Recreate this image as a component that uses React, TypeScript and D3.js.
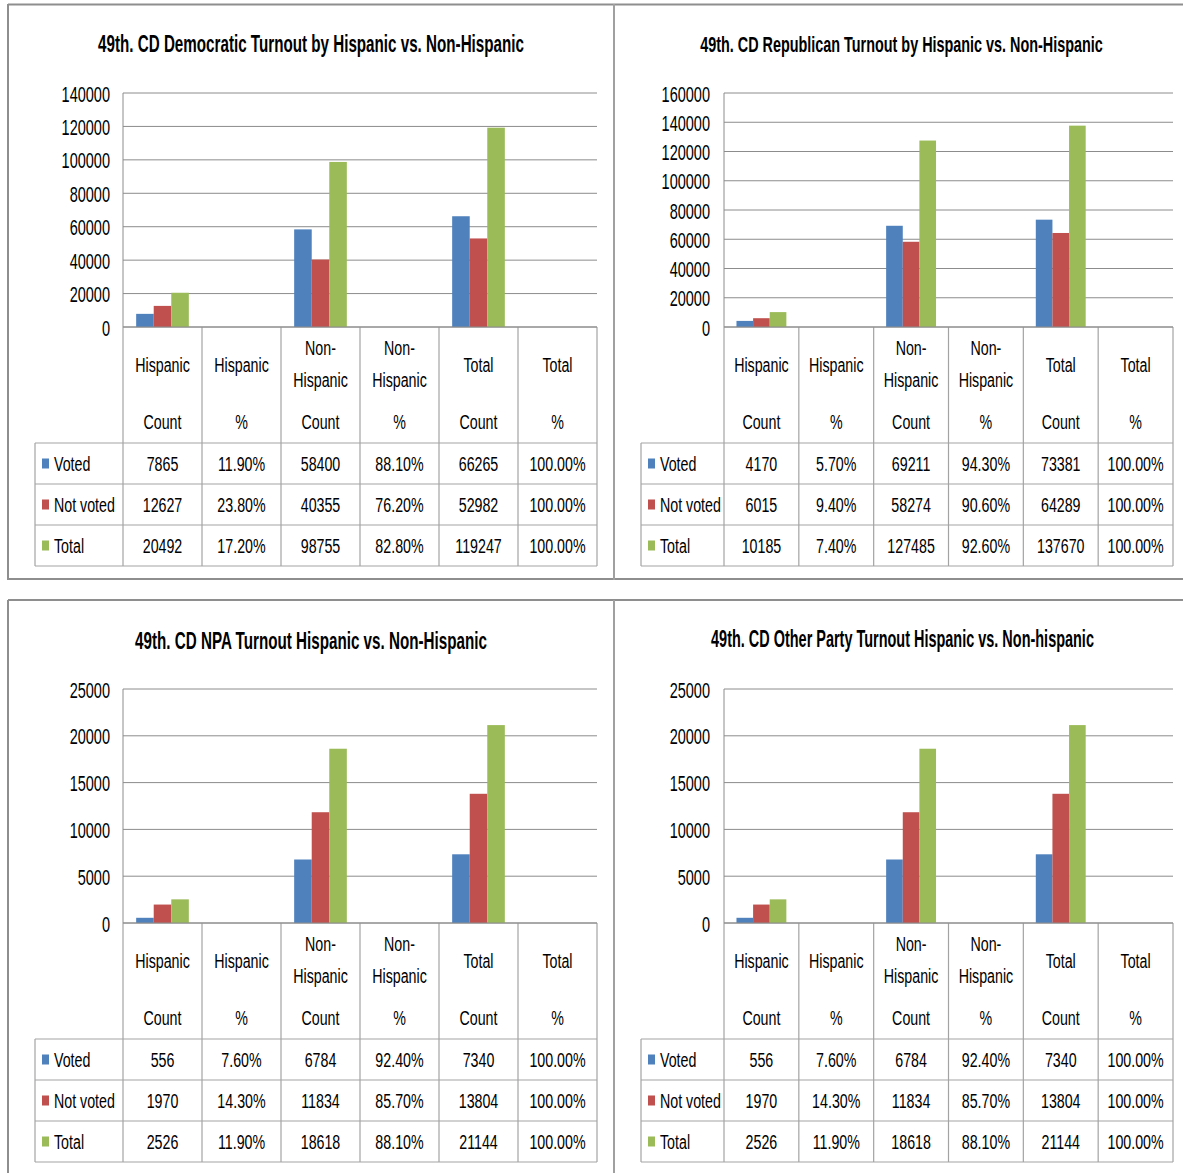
import React from "react";
import * as d3 from "d3";

// ---------- data ----------
const CATEGORIES = ["Hispanic Count", "Hispanic %", "Non-Hispanic Count", "Non-Hispanic %", "Total Count", "Total %"];
const CAT_TOP = [["Hispanic"], ["Hispanic"], ["Non-", "Hispanic"], ["Non-", "Hispanic"], ["Total"], ["Total"]];
const CAT_BOTTOM = ["Count", "%", "Count", "%", "Count", "%"];
const SERIES = ["Voted", "Not voted", "Total"];
const IS_PCT = [false, true, false, true, false, true];

const TITLES = [
  "49th. CD Democratic Turnout by Hispanic vs. Non-Hispanic",
  "49th. CD Republican Turnout by Hispanic vs. Non-Hispanic",
  "49th. CD NPA Turnout  Hispanic vs. Non-Hispanic",
  "49th. CD Other Party Turnout  Hispanic vs. Non-hispanic",
];
const Y_MAX = [140000, 160000, 25000, 25000];
const Y_STEP = [20000, 20000, 5000, 5000];

const DEM_VOTED = [7865, 0.119, 58400, 0.881, 66265, 1.0];
const DEM_NOT_VOTED = [12627, 0.238, 40355, 0.762, 52982, 1.0];
const DEM_TOTAL = [20492, 0.172, 98755, 0.828, 119247, 1.0];

const REP_VOTED = [4170, 0.057, 69211, 0.943, 73381, 1.0];
const REP_NOT_VOTED = [6015, 0.094, 58274, 0.906, 64289, 1.0];
const REP_TOTAL = [10185, 0.074, 127485, 0.926, 137670, 1.0];

const NPA_VOTED = [556, 0.076, 6784, 0.924, 7340, 1.0];
const NPA_NOT_VOTED = [1970, 0.143, 11834, 0.857, 13804, 1.0];
const NPA_TOTAL = [2526, 0.119, 18618, 0.881, 21144, 1.0];

const OTH_VOTED = [556, 0.076, 6784, 0.924, 7340, 1.0];
const OTH_NOT_VOTED = [1970, 0.143, 11834, 0.857, 13804, 1.0];
const OTH_TOTAL = [2526, 0.119, 18618, 0.881, 21144, 1.0];

const PANEL_VALUES = [
  [DEM_VOTED, DEM_NOT_VOTED, DEM_TOTAL],
  [REP_VOTED, REP_NOT_VOTED, REP_TOTAL],
  [NPA_VOTED, NPA_NOT_VOTED, NPA_TOTAL],
  [OTH_VOTED, OTH_NOT_VOTED, OTH_TOTAL],
];

// ---------- styles / layout ----------
const COLORS = ["#4f81bd", "#c0504d", "#9bbb59"];
const FONT = "'Liberation Sans', Arial, sans-serif";
const LAYOUT = [
  { left: 123, right: 597, top: 93, y0: 327, legendLeft: 35, labelRight: 110, titleX: 311, titleY: 52, titleW: 426 },
  { left: 724, right: 1173, top: 93, y0: 327, legendLeft: 641, labelRight: 710, titleX: 901.5, titleY: 52, titleW: 403 },
  { left: 123, right: 597, top: 689, y0: 923, legendLeft: 35, labelRight: 110, titleX: 311, titleY: 649, titleW: 352 },
  { left: 724, right: 1173, top: 689, y0: 923, legendLeft: 641, labelRight: 710, titleX: 902.5, titleY: 647, titleW: 383 },
];
const HEADER_H = 116;
const ROW_H = 41;

const fmtPct = d3.format(".2%");

function Txt({ x, y, anchor = "middle", fs = 19.5, sx = 0.73, children }: any) {
  return (
    <text
      transform={`translate(${x},${y}) scale(${sx},1)`}
      textAnchor={anchor}
      fontSize={fs}
      fontFamily={FONT}
      fill="#000"
    >
      {children}
    </text>
  );
}

function Title({ x, y, w, text }: any) {
  const ref = (el: SVGTextElement | null) => {
    if (!el) return;
    el.setAttribute("transform", `translate(${x},${y})`);
    const len = el.getComputedTextLength();
    if (len > 0) el.setAttribute("transform", `translate(${x},${y}) scale(${w / len},1)`);
  };
  return (
    <text
      ref={ref}
      transform={`translate(${x},${y}) scale(0.6,1)`}
      textAnchor="middle"
      fontSize={23}
      fontWeight="bold"
      fontFamily={FONT}
      fill="#000"
    >
      {text}
    </text>
  );
}

function Panel({ idx }: { idx: number }) {
  const L = LAYOUT[idx];
  const values = PANEL_VALUES[idx];
  const y = d3.scaleLinear().domain([0, Y_MAX[idx]]).range([L.y0, L.top]);
  const x0 = d3.scaleBand<string>().domain(CATEGORIES).range([L.left, L.right]).paddingInner(0).paddingOuter(0);
  const x1 = d3
    .scaleBand<string>()
    .domain(SERIES)
    .range([0, x0.bandwidth()])
    .paddingInner(0)
    .paddingOuter(0.75);
  const ticks = d3.range(0, Y_MAX[idx] + 1, Y_STEP[idx]);
  const headerBottom = L.y0 + HEADER_H;
  const tableBottom = headerBottom + ROW_H * SERIES.length;
  const gridColor = "#8c8c8c";
  const tableColor = "#a3a3a3";

  return (
    <g>
      <Title x={L.titleX} y={L.titleY} w={L.titleW} text={TITLES[idx]} />

      {/* gridlines */}
      {ticks.map((t) => (
        <line key={"g" + t} x1={L.left} x2={L.right} y1={y(t)} y2={y(t)} stroke={gridColor} strokeWidth={1} />
      ))}
      {/* y labels */}
      {ticks.map((t) => (
        <Txt key={"l" + t} x={L.labelRight} y={y(t) + 8.5} anchor="end" fs={22} sx={0.66}>
          {String(t)}
        </Txt>
      ))}
      {/* y axis line */}
      <line x1={L.left} x2={L.left} y1={L.top} y2={L.y0} stroke={gridColor} strokeWidth={1} />

      {/* bars */}
      {CATEGORIES.map((c, ci) => (
        <g key={c} transform={`translate(${x0(c)},0)`}>
          {SERIES.map((s, si) => {
            const v = values[si][ci];
            const h = L.y0 - y(v);
            return (
              <rect
                key={s}
                x={x1(s)}
                y={y(v)}
                width={x1.bandwidth()}
                height={Math.max(0, h)}
                fill={COLORS[si]}
              />
            );
          })}
        </g>
      ))}

      {/* table lines */}
      {CATEGORIES.map((c) => (
        <line
          key={"v" + c}
          x1={x0(c)}
          x2={x0(c)}
          y1={L.y0}
          y2={tableBottom}
          stroke={tableColor}
          strokeWidth={1.2}
        />
      ))}
      <line x1={L.right} x2={L.right} y1={L.y0} y2={tableBottom} stroke={tableColor} strokeWidth={1.2} />
      <line x1={L.legendLeft} x2={L.legendLeft} y1={headerBottom} y2={tableBottom} stroke={tableColor} strokeWidth={1.2} />
      {d3.range(SERIES.length + 1).map((r) => (
        <line
          key={"h" + r}
          x1={L.legendLeft}
          x2={L.right}
          y1={headerBottom + r * ROW_H}
          y2={headerBottom + r * ROW_H}
          stroke={tableColor}
          strokeWidth={1.2}
        />
      ))}
      <line x1={L.left} x2={L.right} y1={L.y0} y2={L.y0} stroke={gridColor} strokeWidth={1} />

      {/* header text */}
      {CATEGORIES.map((c, ci) => {
        const cx = (x0(c) as number) + x0.bandwidth() / 2;
        const top = CAT_TOP[ci];
        const tops = top.length === 1 ? [L.y0 + 38] : [L.y0 + 21, L.y0 + 53];
        return (
          <g key={"t" + c}>
            {top.map((line, li) => (
              <Txt key={li} x={cx} y={tops[li] + 7}>
                {line}
              </Txt>
            ))}
            <Txt x={cx} y={L.y0 + 95 + 7}>
              {CAT_BOTTOM[ci]}
            </Txt>
          </g>
        );
      })}

      {/* rows */}
      {SERIES.map((s, si) => {
        const cy = headerBottom + si * ROW_H + ROW_H / 2;
        return (
          <g key={"r" + s}>
            <rect x={L.legendLeft + 7} y={cy - 5} width={7} height={10} fill={COLORS[si]} />
            <Txt x={L.legendLeft + 19} y={cy + 7} anchor="start">
              {s}
            </Txt>
            {CATEGORIES.map((c, ci) => {
              const v = values[si][ci];
              const cx = (x0(c) as number) + x0.bandwidth() / 2;
              return (
                <Txt key={c} x={cx} y={cy + 7}>
                  {IS_PCT[ci] ? fmtPct(v) : String(v)}
                </Txt>
              );
            })}
          </g>
        );
      })}
    </g>
  );
}

export default function App() {
  const border = "#8e8e8e";
  return (
    <svg
      width={1183}
      height={1173}
      style={{ position: "absolute", left: 0, top: 0, background: "#fff" }}
    >
      <rect x={0} y={0} width={1183} height={1173} fill="#fff" />
      {/* panel borders */}
      <line x1={8} x2={1183} y1={4.5} y2={4.5} stroke={border} strokeWidth={2} />
      <line x1={8} x2={1183} y1={579} y2={579} stroke={border} strokeWidth={2} />
      <line x1={8} x2={8} y1={4} y2={580} stroke={border} strokeWidth={2} />
      <line x1={614} x2={614} y1={4} y2={580} stroke="#a0a0a0" strokeWidth={2} />
      <line x1={8} x2={1183} y1={600} y2={600} stroke={border} strokeWidth={2} />
      <line x1={8} x2={8} y1={600} y2={1173} stroke={border} strokeWidth={2} />
      <line x1={614} x2={614} y1={600} y2={1173} stroke="#a0a0a0" strokeWidth={2} />
      {[0, 1, 2, 3].map((i) => (
        <Panel key={i} idx={i} />
      ))}
    </svg>
  );
}
